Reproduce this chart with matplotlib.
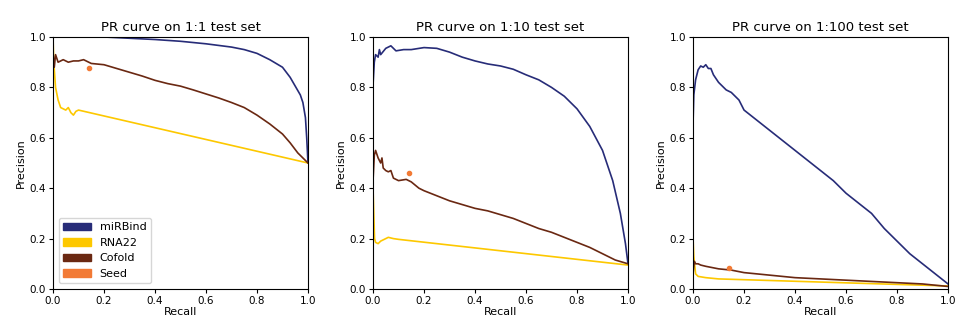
import matplotlib
matplotlib.use("Agg")
import matplotlib.pyplot as plt
from matplotlib.patches import Patch

titles = ["PR curve on 1:1 test set", "PR curve on 1:10 test set", "PR curve on 1:100 test set"]
names = ["miRBind", "RNA22", "Cofold", "Seed"]
colors = ["#272c78", "#fdc800", "#6a2812", "#f27a35"]

# 1:1
mirbind_r_1 = [0, 0.2, 0.4, 0.5, 0.6, 0.7, 0.75, 0.8, 0.85, 0.9, 0.93, 0.95, 0.97, 0.98, 0.99, 0.995, 1.0]
mirbind_p_1 = [1.0, 1.0, 0.99, 0.983, 0.973, 0.96, 0.95, 0.935, 0.91, 0.88, 0.84, 0.805, 0.77, 0.74, 0.68, 0.6, 0.5]
cofold_r_1 = [0, 0.005, 0.01, 0.02, 0.04, 0.06, 0.08, 0.1, 0.12, 0.15, 0.2, 0.25, 0.3, 0.35, 0.4, 0.45,
              0.5, 0.55, 0.6, 0.65, 0.7, 0.75, 0.8, 0.85, 0.9, 0.93, 0.96, 1.0]
cofold_p_1 = [0.94, 0.88, 0.93, 0.9, 0.91, 0.9, 0.905, 0.905, 0.91, 0.895, 0.89, 0.875, 0.86, 0.845, 0.828, 0.815,
              0.805, 0.79, 0.774, 0.758, 0.74, 0.72, 0.69, 0.655, 0.615, 0.58, 0.54, 0.5]
rna22_r_1 = [0, 0.003, 0.01, 0.02, 0.03, 0.05, 0.06, 0.07, 0.08, 0.09, 0.1, 1.0]
rna22_p_1 = [1.0, 0.9, 0.8, 0.75, 0.72, 0.71, 0.72, 0.7, 0.69, 0.705, 0.71, 0.5]
seed_1 = (0.14, 0.875)

# 1:10
mirbind_r_10 = [0, 0.005, 0.01, 0.02, 0.025, 0.03, 0.05, 0.07, 0.09, 0.12, 0.15, 0.2, 0.25, 0.3, 0.35, 0.4,
                0.45, 0.5, 0.55, 0.6, 0.65, 0.7, 0.75, 0.8, 0.85, 0.9, 0.94, 0.97, 0.99, 1.0]
mirbind_p_10 = [0.81, 0.9, 0.93, 0.92, 0.95, 0.93, 0.955, 0.965, 0.945, 0.95, 0.95, 0.958, 0.955, 0.94, 0.92, 0.905,
                0.893, 0.885, 0.872, 0.85, 0.83, 0.8, 0.765, 0.715, 0.645, 0.55, 0.43, 0.3, 0.18, 0.1]
cofold_r_10 = [0, 0.005, 0.01, 0.02, 0.03, 0.035, 0.04, 0.05, 0.06, 0.07, 0.08, 0.1, 0.13, 0.15, 0.18, 0.2,
               0.25, 0.3, 0.35, 0.4, 0.45, 0.5, 0.55, 0.6, 0.65, 0.7, 0.75, 0.8, 0.85, 0.9, 0.95, 1.0]
cofold_p_10 = [0.43, 0.53, 0.55, 0.52, 0.5, 0.52, 0.48, 0.47, 0.465, 0.47, 0.44, 0.43, 0.435, 0.425, 0.4, 0.39,
               0.37, 0.35, 0.335, 0.32, 0.31, 0.295, 0.28, 0.26, 0.24, 0.225, 0.205, 0.185, 0.165, 0.14, 0.115, 0.1]
rna22_r_10 = [0, 0.003, 0.006, 0.01, 0.02, 0.03, 0.05, 0.06, 0.08, 0.1, 1.0]
rna22_p_10 = [0.4, 0.3, 0.2, 0.185, 0.18, 0.19, 0.2, 0.205, 0.2, 0.197, 0.095]
seed_10 = (0.14, 0.46)

# 1:100
mirbind_r_100 = [0, 0.003, 0.01, 0.02, 0.03, 0.04, 0.05, 0.06, 0.07, 0.08, 0.1, 0.13, 0.15, 0.18, 0.2, 0.25,
                 0.3, 0.35, 0.4, 0.45, 0.5, 0.55, 0.6, 0.65, 0.7, 0.75, 0.8, 0.85, 0.9, 0.95, 1.0]
mirbind_p_100 = [0.66, 0.77, 0.83, 0.87, 0.885, 0.88, 0.89, 0.875, 0.875, 0.85, 0.82, 0.79, 0.78, 0.75, 0.71, 0.67,
                 0.63, 0.59, 0.55, 0.51, 0.47, 0.43, 0.38, 0.34, 0.3, 0.24, 0.19, 0.14, 0.1, 0.06, 0.02]
cofold_r_100 = [0, 0.005, 0.01, 0.02, 0.03, 0.05, 0.1, 0.15, 0.2, 0.3, 0.4, 0.5, 0.6, 0.7, 0.8, 0.9, 1.0]
cofold_p_100 = [0.06, 0.11, 0.1, 0.1, 0.095, 0.09, 0.08, 0.075, 0.065, 0.055, 0.045, 0.04, 0.035, 0.03, 0.025, 0.02, 0.01]
rna22_r_100 = [0, 0.003, 0.01, 0.02, 0.05, 0.1, 1.0]
rna22_p_100 = [0.2, 0.13, 0.06, 0.05, 0.045, 0.04, 0.012]
seed_100 = (0.14, 0.085)

panels = [
    (mirbind_r_1, mirbind_p_1, rna22_r_1, rna22_p_1, cofold_r_1, cofold_p_1, seed_1),
    (mirbind_r_10, mirbind_p_10, rna22_r_10, rna22_p_10, cofold_r_10, cofold_p_10, seed_10),
    (mirbind_r_100, mirbind_p_100, rna22_r_100, rna22_p_100, cofold_r_100, cofold_p_100, seed_100),
]

fig = plt.figure(figsize=(9.55, 3.22), dpi=100)
lefts = [0.0555, 0.3906, 0.7257]

for i, (mr, mp, rr, rp, cr, cp, seed) in enumerate(panels):
    ax = fig.add_axes([lefts[i], 0.1025, 0.267, 0.7826])
    ax.plot(mr, mp, color=colors[0], lw=1.2)
    ax.plot(rr, rp, color=colors[1], lw=1.2)
    ax.plot(cr, cp, color=colors[2], lw=1.2)
    ax.plot([seed[0]], [seed[1]], "o", color=colors[3], ms=3)
    ax.set_xlim(0, 1)
    ax.set_ylim(0, 1)
    ax.set_title(titles[i], fontsize=9.5, pad=4)
    ax.set_xlabel("Recall", fontsize=8, labelpad=1)
    ax.set_ylabel("Precision", fontsize=8, labelpad=3)
    ax.tick_params(labelsize=7.5, length=3, pad=2)
    if i == 0:
        handles = [Patch(color=c, label=n) for c, n in zip(colors, names)]
        ax.legend(handles=handles, loc="lower left", fontsize=8, handlelength=2.5)

plt.savefig("out.png", dpi=100)
